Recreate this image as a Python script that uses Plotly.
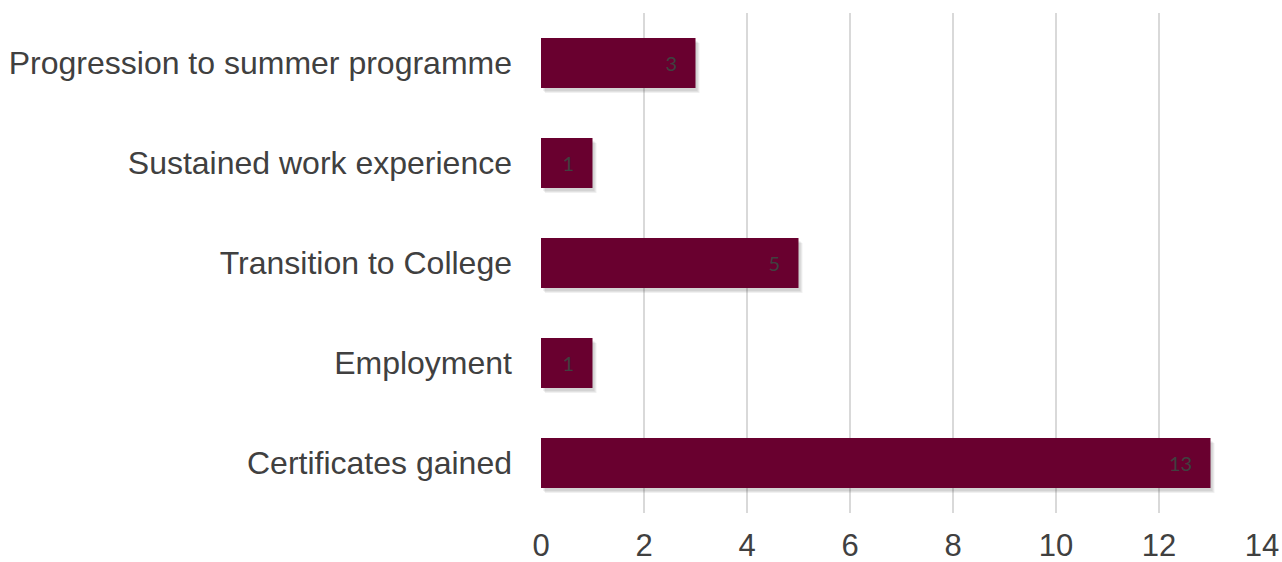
import plotly.graph_objects as go

# Outcome categories (bottom to top) and counts
categories = ["Certificates gained", "Employment", "Transition to College",
              "Sustained work experience", "Progression to summer programme"]
counts = [13, 1, 5, 1, 3]
x_ticks = [0, 2, 4, 6, 8, 10, 12, 14]

positions = list(range(len(categories)))
px_per_unit_x = 721 / 14   # plot width / x range
px_per_unit_y = 500 / 5    # plot height / y range

fig = go.Figure()

# soft drop shadow under each bar, built from a few translucent layers
for k in (1, 2, 3):
    dx = (1 + k) / px_per_unit_x
    dy = (2 + k) / px_per_unit_y
    fig.add_trace(go.Bar(
        x=counts,
        y=[p - dy for p in positions],
        base=dx,
        orientation="h",
        width=0.5,
        marker=dict(color="rgba(0,0,0,0.06)", line=dict(width=0)),
        hoverinfo="skip",
    ))

fig.add_trace(go.Bar(
    x=counts,
    y=positions,
    orientation="h",
    width=0.5,
    marker=dict(color="#69002f", line=dict(width=0)),
    text=[f"{v}\u00a0\u00a0\u00a0" for v in counts],
    textposition="inside",
    insidetextanchor="end",
    textangle=0,
    constraintext="none",
    textfont=dict(family="Lato", size=20, color="#404040"),
))

fig.update_layout(
    width=1282, height=562,
    margin=dict(l=541, r=20, t=13, b=49),
    plot_bgcolor="white", paper_bgcolor="white",
    font=dict(family="Liberation Sans, Arial", color="#404040"),
    showlegend=False,
    barmode="overlay",
    xaxis=dict(
        range=[0, 14], tickvals=x_ticks, showgrid=True,
        gridcolor="#d9d9d9", gridwidth=2, zeroline=False,
        tickfont=dict(size=31), ticklabelstandoff=11,
        showline=False, fixedrange=True, automargin=False,
    ),
    yaxis=dict(
        tickvals=positions, ticktext=categories,
        showgrid=False, zeroline=False, showline=False,
        tickfont=dict(size=32), ticklabelstandoff=28,
        range=[-0.5, 4.5], automargin=False, fixedrange=True,
    ),
)

fig.write_html("out.html")
